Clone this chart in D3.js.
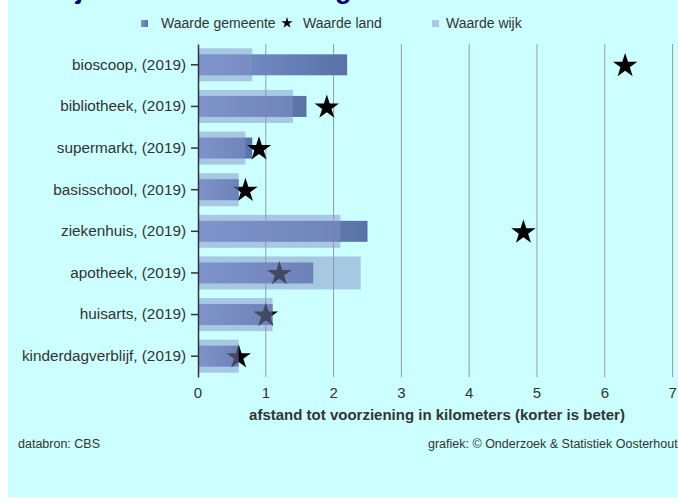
<!DOCTYPE html>
<html>
<head>
<meta charset="utf-8">
<script src="https://cdn.jsdelivr.net/npm/d3@7"></script>
<style>
  body { margin: 0; background: #fff; overflow: hidden; }
  svg { display: block; font-family: "Liberation Sans", Arial, sans-serif; }
</style>
</head>
<body>
<div id="chart"></div>
<script>
// data
var categories = ["bioscoop, (2019)", "bibliotheek, (2019)", "supermarkt, (2019)", "basisschool, (2019)",
    "ziekenhuis, (2019)", "apotheek, (2019)", "huisarts, (2019)", "kinderdagverblijf, (2019)"]
var gemeente = [2.2, 1.6, 0.8, 0.6, 2.5, 1.7, 1.1, 0.6]
var land = [6.3, 1.9, 0.9, 0.7, 4.8, 1.2, 1.0, 0.6]
var wijk = [0.8, 1.4, 0.7, 0.6, 2.1, 2.4, 1.1, 0.6]
var xTicks = [0, 1, 2, 3, 4, 5, 6, 7]

var W = 678, H = 499
var svg = d3.select("#chart").append("svg")
    .attr("width", W)
    .attr("height", H)

// background
svg.append("rect")
    .attr("x", 8).attr("y", 0)
    .attr("width", W).attr("height", 497)
    .attr("fill", "#ccffff")

// gradient for gemeente bars
var defs = svg.append("defs")
var grad = defs.append("linearGradient").attr("id", "gemGrad")
    .attr("x1", "0%").attr("x2", "100%").attr("y1", "0%").attr("y2", "0%")
grad.append("stop").attr("offset", "0%").attr("stop-color", "rgb(126,150,208)")
grad.append("stop").attr("offset", "100%").attr("stop-color", "rgb(88,114,166)")

// title (mostly out of view, as in the original)
svg.append("text")
    .attr("x", 17).attr("y", -2)
    .attr("font-size", "27px").attr("font-weight", "bold")
    .attr("fill", "#000080")
    .text("Nabijheid van voorzieningen")

// scales
var x = d3.scaleLinear().domain([0, 7]).range([198, 672.6])
var y = d3.scaleBand().domain(categories).range([44, 377])

var rows = categories.map(function(c, i) {
    return { cat: c, gem: gemeente[i], land: land[i], wijk: wijk[i] }
})

// gridlines
svg.append("g").selectAll("line")
    .data(xTicks.slice(1))
    .enter().append("line")
    .attr("x1", function(d) { return x(d) })
    .attr("x2", function(d) { return x(d) })
    .attr("y1", 44).attr("y2", 377)
    .attr("stroke", "#999").attr("stroke-width", 1)

// x tick labels
svg.append("g").selectAll("text")
    .data(xTicks)
    .enter().append("text")
    .attr("x", function(d) { return x(d) })
    .attr("y", 398)
    .attr("text-anchor", "middle")
    .attr("font-size", "15px").attr("fill", "#333")
    .text(function(d) { return d })

// gemeente bars
var gemH = 21, wijkH = 33
svg.append("g").selectAll("rect")
    .data(rows)
    .enter().append("rect")
    .attr("x", x(0))
    .attr("y", function(d) { return y(d.cat) + y.bandwidth() / 2 - gemH / 2 })
    .attr("width", function(d) { return x(d.gem) - x(0) })
    .attr("height", gemH)
    .attr("fill", "url(#gemGrad)")

// land stars
var star = d3.symbol().type(d3.symbolStar).size(185)
svg.append("g").selectAll("path")
    .data(rows)
    .enter().append("path")
    .attr("d", star)
    .attr("transform", function(d) {
        return "translate(" + x(d.land) + "," + (y(d.cat) + y.bandwidth() / 2 + 1) + ")"
    })
    .attr("fill", "#000")

// wijk bars on top, half transparent
svg.append("g").selectAll("rect")
    .data(rows)
    .enter().append("rect")
    .attr("x", x(0))
    .attr("y", function(d) { return y(d.cat) + y.bandwidth() / 2 - wijkH / 2 })
    .attr("width", function(d) { return x(d.wijk) - x(0) })
    .attr("height", wijkH)
    .attr("fill", "rgb(130,145,200)")
    .attr("fill-opacity", 0.5)

// y axis
var yAxis = svg.append("g")
    .attr("transform", "translate(" + x(0) + ",0)")
    .call(d3.axisLeft(y).tickSize(7).tickPadding(5).tickSizeOuter(0))
yAxis.select(".domain").attr("stroke", "#333").attr("stroke-width", 1.5)
yAxis.selectAll(".tick line").attr("stroke", "#333").attr("stroke-width", 1.5)
yAxis.selectAll(".tick text")
    .attr("font-size", "15.3px").attr("fill", "#333")
    .attr("font-family", "Liberation Sans, Arial, sans-serif")

// axis title
svg.append("text")
    .attr("x", 437).attr("y", 420)
    .attr("text-anchor", "middle")
    .attr("font-size", "15px").attr("font-weight", "bold").attr("fill", "#333")
    .text("afstand tot voorziening in kilometers (korter is beter)")

// legend
var legend = svg.append("g").attr("font-size", "14px").attr("fill", "#333")
legend.append("rect").attr("x", 141).attr("y", 20).attr("width", 7).attr("height", 7)
    .attr("fill", "url(#gemGrad)")
legend.append("text").attr("x", 161).attr("y", 28).text("Waarde gemeente")
legend.append("path")
    .attr("d", d3.symbol().type(d3.symbolStar).size(40))
    .attr("transform", "translate(287,23)")
    .attr("fill", "#000")
legend.append("text").attr("x", 303).attr("y", 28).text("Waarde land")
legend.append("rect").attr("x", 432).attr("y", 20).attr("width", 7).attr("height", 7)
    .attr("fill", "#a8c8e4")
legend.append("text").attr("x", 446).attr("y", 28).text("Waarde wijk")

// footer
svg.append("text")
    .attr("x", 18).attr("y", 448)
    .attr("font-size", "12.5px").attr("fill", "#333")
    .text("databron: CBS")
svg.append("text")
    .attr("x", 428).attr("y", 448)
    .attr("font-size", "12.5px").attr("fill", "#333")
    .text("grafiek: © Onderzoek & Statistiek Oosterhout")
</script>
</body>
</html>
